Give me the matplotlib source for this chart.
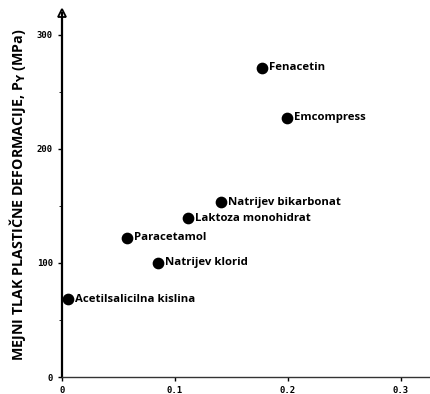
import matplotlib.pyplot as plt
import numpy as np

# Data
names = ['Acetilsalicilna kislina', 'Paracetamol', 'Natrijev klorid',
         'Laktoza monohidrat', 'Natrijev bikarbonat', 'Fenacetin', 'Emcompress']
x_vals = [0.005, 0.058, 0.085, 0.112, 0.141, 0.177, 0.199]
py_vals = [68, 122, 100, 139, 153, 271, 227]

x_ticks = [0, 0.1, 0.2, 0.3]
x_ticklabels = ['0', '0.1', '0.2', '0.3']
y_ticks = [0, 100, 200, 300]

fig = plt.figure(figsize=(4.3, 3.94), dpi=100)
ax = fig.add_axes([0.144, 0.043, 0.856, 0.924])

ax.scatter(x_vals, py_vals, s=55, color='black', zorder=3)
for name, xv, yv in zip(names, x_vals, py_vals):
    ax.annotate(name, (xv, yv), xytext=(5, 0), textcoords='offset points',
                va='center', ha='left', fontsize=8.2, fontweight='bold',
                family='Open Sans')

ax.set_xlim(0, 0.326)
ax.set_ylim(0, 319)

for side in ['top', 'right']:
    ax.spines[side].set_visible(False)
ax.spines['left'].set_linewidth(1.6)
ax.spines['bottom'].set_linewidth(1.0)
ax.spines['bottom'].set_color('#333333')

# arrow at the top of the y axis
ax.plot(0, 1, marker='^', markersize=6, markerfacecolor='white',
        markeredgecolor='black', markeredgewidth=1.3,
        transform=ax.transAxes, clip_on=False)

ax.set_xticks(x_ticks)
ax.set_xticklabels(x_ticklabels)
ax.set_yticks(y_ticks)
ax.set_yticks([50, 150, 250], minor=True)
ax.tick_params(axis='both', which='major', labelsize=6.5, length=3, width=1)
ax.tick_params(axis='y', which='minor', length=2)
for lab in ax.get_xticklabels() + ax.get_yticklabels():
    lab.set_fontweight('bold')
    lab.set_family('DejaVu Sans Mono')

ax.set_ylabel(r'MEJNI TLAK PLASTIČNE DEFORMACIJE, P$_\mathbf{Y}$ (MPa)',
              fontsize=10.3, fontweight='bold', family='Open Sans', labelpad=6)

fig.savefig('out.png', dpi=100)
